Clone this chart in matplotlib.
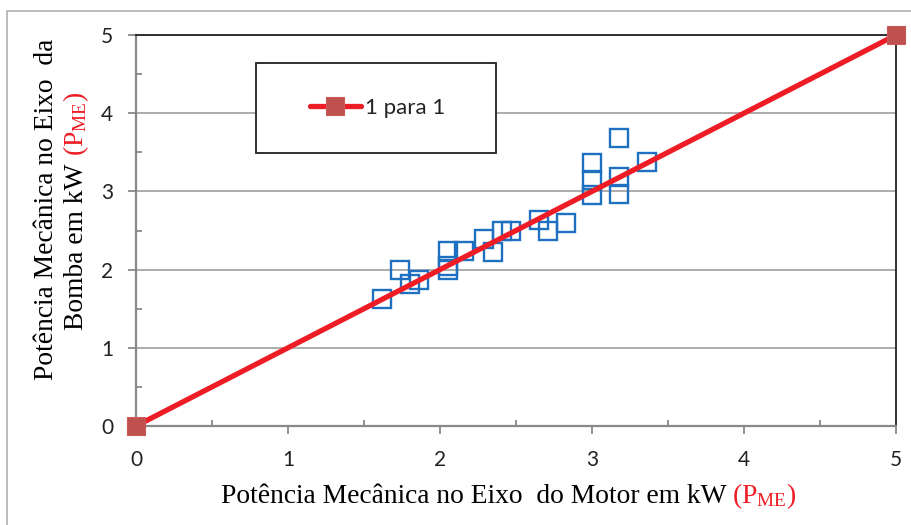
import matplotlib
matplotlib.use('Agg')
import matplotlib.pyplot as plt
from matplotlib.patches import Rectangle
from matplotlib.ticker import MultipleLocator

# ---------------- data ----------------
motor_kw = [1.62, 1.74, 1.80, 1.86, 2.05, 2.05, 2.05, 2.16, 2.29, 2.35, 2.41, 2.47,
            2.65, 2.71, 2.83, 3.00, 3.00, 3.00, 3.18, 3.18, 3.18, 3.36]
bomba_kw = [1.62, 1.99, 1.82, 1.87, 2.24, 2.04, 1.99, 2.24, 2.39, 2.23, 2.49, 2.49,
            2.64, 2.50, 2.59, 3.36, 3.15, 2.95, 3.68, 3.19, 2.97, 3.38]
ref_x = [0, 5]
ref_y = [0, 5]
tick_values = [0, 1, 2, 3, 4, 5]
tick_labels = ['0', '1', '2', '3', '4', '5']
legend_label = '1 para 1'
xlabel_parts = [('Potência Mecânica no Eixo  do Motor em kW', 'black'),
                (r'(P$_{\mathrm{ME}}$)', '#ee1c25')]
ylabel_line1 = [('Potência Mecânica no Eixo  da', 'black')]
ylabel_line2 = [('Bomba em kW', 'black'), (r'(P$_{\mathrm{ME}}$)', '#ee1c25')]

plt.rcParams['mathtext.fontset'] = 'custom'
plt.rcParams['mathtext.rm'] = 'Liberation Serif'
plt.rcParams['mathtext.it'] = 'Liberation Serif:italic'

W, H = 911, 525
fig = plt.figure(figsize=(W / 100, H / 100), dpi=100)
fig.patch.set_facecolor('white')

# outer frame of the chart (gray)
fig.patches.append(Rectangle((7 / W, -0.05), 1.2, 1 - 11 / H + 0.05,
                             transform=fig.transFigure, fill=False,
                             edgecolor='#b0b0b0', linewidth=1.2))

ax = fig.add_axes([136 / W, 1 - 426 / H, 760 / W, 391 / H])
ax.set_xlim(0, 5)
ax.set_ylim(0, 5)

tick_font = dict(family='Lato', size=15, color='#222222')
ax.set_xticks(tick_values)
ax.set_xticklabels(tick_labels, **tick_font)
ax.set_yticks(tick_values)
ax.set_yticklabels(tick_labels, **tick_font)
ax.xaxis.set_minor_locator(MultipleLocator(0.5))
ax.yaxis.set_minor_locator(MultipleLocator(0.5))
ax.tick_params(which='major', direction='out', length=5.5, width=1.3, color='#888888')
ax.tick_params(axis='x', which='major', pad=11.5)
ax.tick_params(axis='y', which='major', pad=11)
ax.tick_params(which='minor', direction='in', length=4, width=1.3, color='#888888')

for s in ['left', 'bottom']:
    ax.spines[s].set_color('#888888')
    ax.spines[s].set_linewidth(1.6)
for s in ['top', 'right']:
    ax.spines[s].set_color('#222222')
    ax.spines[s].set_linewidth(1.3)

ax.yaxis.grid(True, which='major', color='#a6a6a6', linewidth=1.3)
ax.set_axisbelow(True)

ax.plot(motor_kw, bomba_kw, linestyle='none', marker='s', markersize=13,
        markerfacecolor='none', markeredgecolor='#1f70c1', markeredgewidth=1.7,
        zorder=3)
ax.plot(ref_x, ref_y, color='#ee1c25', linewidth=3.8, marker='s', markersize=13.5,
        markerfacecolor='#c0504d', markeredgecolor='#c85a57', markeredgewidth=0.8,
        label=legend_label, zorder=4, clip_on=False, solid_capstyle='round')

# legend box
ax.add_patch(Rectangle((0.158, 0.698), 0.4737 - 0.158, 0.928 - 0.698,
                       transform=ax.transAxes, facecolor='white',
                       edgecolor='#222222', linewidth=1.3, zorder=5))
leg = ax.legend(loc='center', bbox_to_anchor=(0.318, 0.813), frameon=False,
                prop=dict(family='Lato', size=16), handlelength=2.3,
                handletextpad=0.2, borderpad=0)
leg.set_zorder(6)
for t in leg.get_texts():
    t.set_color('#222222')

# ---------------- axis titles (multi-colour) ----------------
label_font = dict(family='Liberation Serif', size=19.8)
fig.canvas.draw()
renderer = fig.canvas.get_renderer()


def draw_parts(parts, x_px, y_px, rotation, gap_px=6):
    """Draw consecutive text pieces starting at pixel (x_px, y_px) measured from top-left."""
    cx, cy = x_px, H - y_px
    for text, color in parts:
        t = fig.text(cx / W, cy / H, text, color=color, rotation=rotation,
                     rotation_mode='anchor', ha='left', va='baseline',
                     **label_font)
        bb = t.get_window_extent(renderer=renderer)
        if rotation == 0:
            cx = bb.x1 + gap_px
        else:
            cy = bb.y1 + gap_px


draw_parts(xlabel_parts, 221, 503, 0, gap_px=5)
draw_parts(ylabel_line1, 53, 380, 90)
draw_parts(ylabel_line2, 83, 330, 90, gap_px=7)

fig.savefig('out.png', dpi=100, facecolor='white')
